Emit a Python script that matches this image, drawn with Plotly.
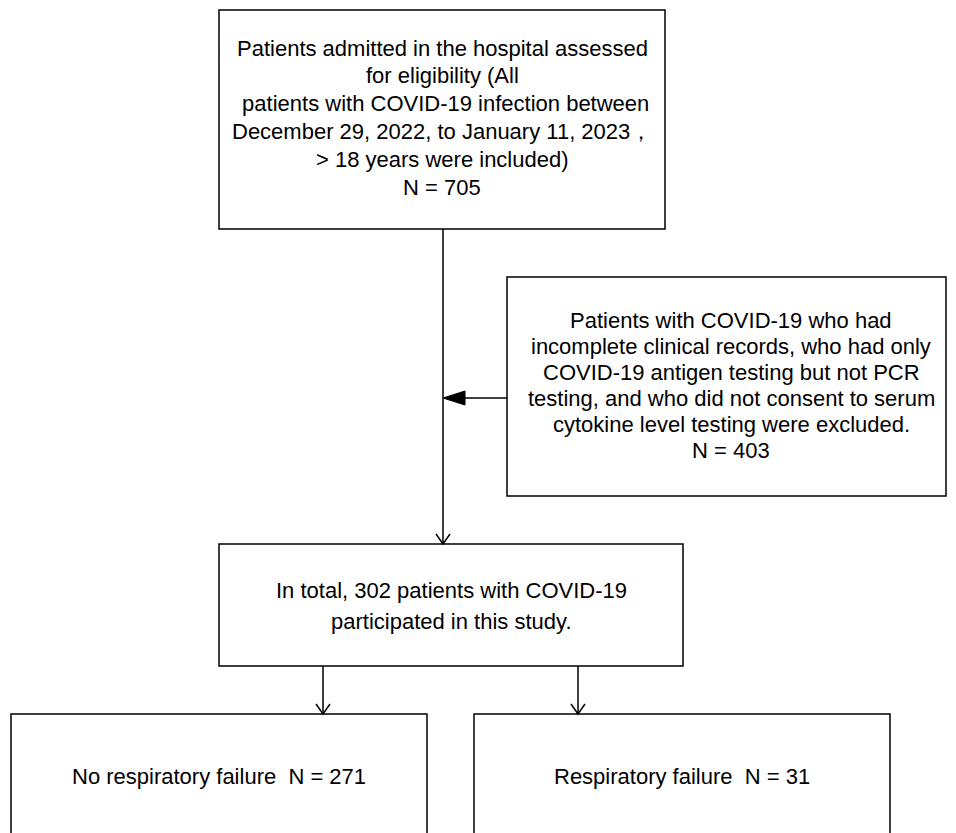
import plotly.graph_objects as go

# ---- text content ----
top_lines = [
    "Patients admitted in the hospital assessed",
    "for eligibility (All",
    " patients with COVID-19 infection between",
    "December 29, 2022, to January 11, 2023，",
    "> 18 years were included)",
    "N = 705",
]
excl_lines = [
    "Patients with COVID-19 who had",
    "incomplete clinical records, who had only",
    "COVID-19 antigen testing but not PCR",
    "testing, and who did not consent to serum",
    "cytokine level testing were excluded.",
    "N = 403",
]
mid_lines = [
    "In total, 302 patients with COVID-19",
    "participated in this study.",
]
left_lines = ["No respiratory failure  N = 271"]
right_lines = ["Respiratory failure  N = 31"]

W, H = 956, 833
OFF = 8  # page body margin
FONT = dict(family="Liberation Sans, Arial, sans-serif", size=22, color="#000000")
LW = 1.5

# box geometry (pixel layout)
boxes = {
    "top": dict(x0=219, x1=665, y0=10, y1=229, cx=442, ty=48, sp=27.8, lines=top_lines),
    "excl": dict(x0=507, x1=946, y0=277, y1=496, cx=731, ty=320, sp=26.0, lines=excl_lines),
    "mid": dict(x0=219, x1=683, y0=544, y1=666, cx=451, ty=590, sp=31.0, lines=mid_lines),
    "left": dict(x0=11, x1=427, y0=714, y1=850, cx=219, ty=776, sp=26.0, lines=left_lines),
    "right": dict(x0=474, x1=890, y0=714, y1=850, cx=682, ty=776, sp=26.0, lines=right_lines),
}

fig = go.Figure()
shapes = []
annotations = []

for b in boxes.values():
    shapes.append(dict(type="rect", xref="x", yref="y", x0=b["x0"], x1=b["x1"],
                       y0=b["y0"], y1=b["y1"], line=dict(color="black", width=LW),
                       fillcolor="white", layer="below"))
    for i, t in enumerate(b["lines"]):
        annotations.append(dict(x=b["cx"], y=b["ty"] + i * b["sp"], xref="x", yref="y",
                                text=t, showarrow=False, xanchor="center", yanchor="middle",
                                font=FONT))

def line(x0, y0, x1, y1):
    shapes.append(dict(type="line", xref="x", yref="y", x0=x0, y0=y0, x1=x1, y1=y1,
                       line=dict(color="black", width=LW)))

def vhead(x, y):
    shapes.append(dict(type="path", xref="x", yref="y",
                       path=f"M {x-7},{y-10} L {x},{y} L {x+7},{y-10}",
                       line=dict(color="black", width=LW)))

# main vertical arrow
main_x = 443
line(main_x, boxes["top"]["y1"], main_x, boxes["mid"]["y0"])
vhead(main_x, boxes["mid"]["y0"])

# exclusion arrow (filled head pointing left)
ey = 398
line(boxes["excl"]["x0"], ey, main_x + 20, ey)
shapes.append(dict(type="path", xref="x", yref="y",
                   path=f"M {main_x},{ey} L {main_x+22},{ey-7} L {main_x+22},{ey+7} Z",
                   fillcolor="black", line=dict(color="black", width=1)))

# branches
for bx in (323, 578):
    line(bx, boxes["mid"]["y1"], bx, boxes["left"]["y0"])
    vhead(bx, boxes["left"]["y0"])

fig.update_layout(
    width=W - OFF, height=H - OFF,
    margin=dict(l=0, r=0, t=0, b=0),
    paper_bgcolor="white", plot_bgcolor="white",
    shapes=shapes, annotations=annotations,
    xaxis=dict(range=[OFF, W], visible=False, fixedrange=True),
    yaxis=dict(range=[H, OFF], visible=False, fixedrange=True),
    showlegend=False,
)

fig.write_html("out.html")
